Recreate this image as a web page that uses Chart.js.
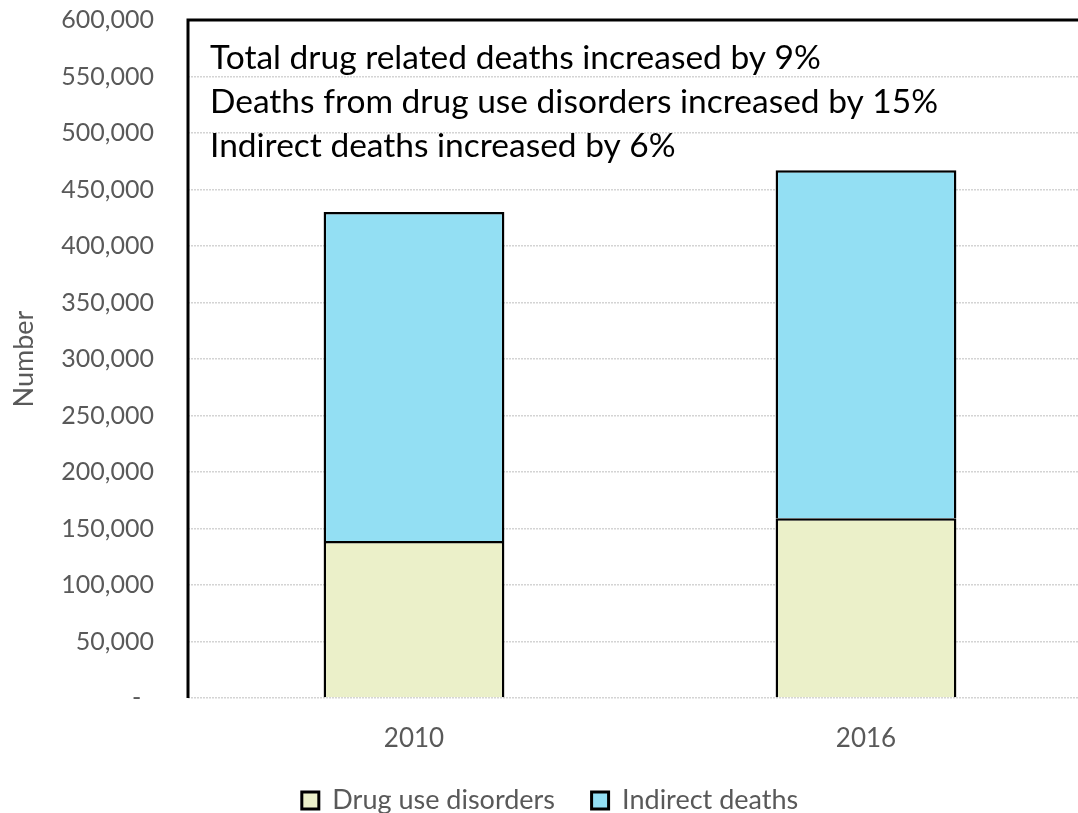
<!DOCTYPE html>
<html>
<head>
<meta charset="utf-8">
<script src="https://cdn.jsdelivr.net/npm/chart.js@4.4.0/dist/chart.umd.min.js"></script>
<style>
  html, body { margin: 0; padding: 0; background: #fff; overflow: hidden; }
  #wrap { width: 1100px; height: 853px; margin-top: -29px; }
</style>
</head>
<body>
<div id="wrap"><canvas id="chart-muertes"></canvas></div>
<script>
// datos
const years = ["2010", "2016"];
const drugUseDisorders = [139000, 159000];
const indirectDeaths = [291000, 308000];
const notes = [
    "Total drug related deaths increased by 9%",
    "Deaths from drug use disorders increased by 15%",
    "Indirect deaths increased by 6%"
];

const FONT = "Lato, 'Open Sans', sans-serif";
const GREY = "#595959";

// borde superior e izquierdo + texto de notas
const framePlugin = {
    id: "frame",
    afterDraw(chart) {
        const { ctx, chartArea } = chart;
        ctx.save();
        ctx.strokeStyle = "#000";
        ctx.lineWidth = 3;
        ctx.beginPath();
        ctx.moveTo(chartArea.left, chartArea.bottom);
        ctx.lineTo(chartArea.left, chartArea.top);
        ctx.lineTo(chartArea.right + 20, chartArea.top);
        ctx.stroke();

        ctx.fillStyle = "#000";
        ctx.font = "33.5px " + FONT;
        ctx.textBaseline = "middle";
        notes.forEach((t, i) => {
            ctx.fillText(t, chartArea.left + 22, chartArea.top + 38 + i * 44);
        });
        ctx.restore();
    }
};

new Chart(document.getElementById("chart-muertes"), {
    type: "bar",
    data: {
        labels: years,
        datasets: [
            {
                label: "Drug use disorders",
                data: drugUseDisorders,
                backgroundColor: "#EBF0C9",
                borderColor: "#000",
                borderWidth: 2.5
            },
            {
                label: "Indirect deaths",
                data: indirectDeaths,
                backgroundColor: "#93DFF3",
                borderColor: "#000",
                borderWidth: 2.5
            }
        ]
    },
    options: {
        responsive: true,
        maintainAspectRatio: false,
        animation: false,
        layout: { padding: { top: 0, right: 8, left: 8, bottom: 0 } },
        datasets: { bar: { barPercentage: 0.4, categoryPercentage: 1 } },
        plugins: {
            legend: {
                position: "bottom",
                labels: {
                    font: { family: FONT, size: 27 },
                    color: GREY,
                    boxWidth: 17,
                    boxHeight: 17,
                    padding: 2,
                    generateLabels(chart) {
                        const items = Chart.defaults.plugins.legend.labels.generateLabels(chart);
                        items.forEach((it, i) => {
                            it.lineWidth = 3;
                            if (i < items.length - 1) it.text += "     ";
                        });
                        return items;
                    }
                }
            },
            tooltip: { enabled: false }
        },
        scales: {
            x: {
                stacked: true,
                grid: { display: false },
                border: { display: false },
                ticks: { font: { family: FONT, size: 26 }, color: GREY, padding: 17 },
                afterFit(scale) { scale.height = 87; }
            },
            y: {
                stacked: true,
                min: 0,
                max: 600000,
                ticks: {
                    stepSize: 50000,
                    font: { family: FONT, size: 25 },
                    color: GREY,
                    padding: 34,
                    callback: v => v === 0 ? "-  " : v.toLocaleString("en-US")
                },
                grid: { color: "#d4d4d4", lineWidth: 1.5, drawTicks: false },
                border: { display: false, dash: [2, 1] },
                title: {
                    display: true,
                    text: "Number",
                    font: { family: FONT, size: 27 },
                    color: GREY,
                    padding: { top: 0, bottom: 4 }
                },
                afterFit(scale) { scale.width = 180; }
            }
        }
    },
    plugins: [framePlugin]
});
</script>
</body>
</html>
